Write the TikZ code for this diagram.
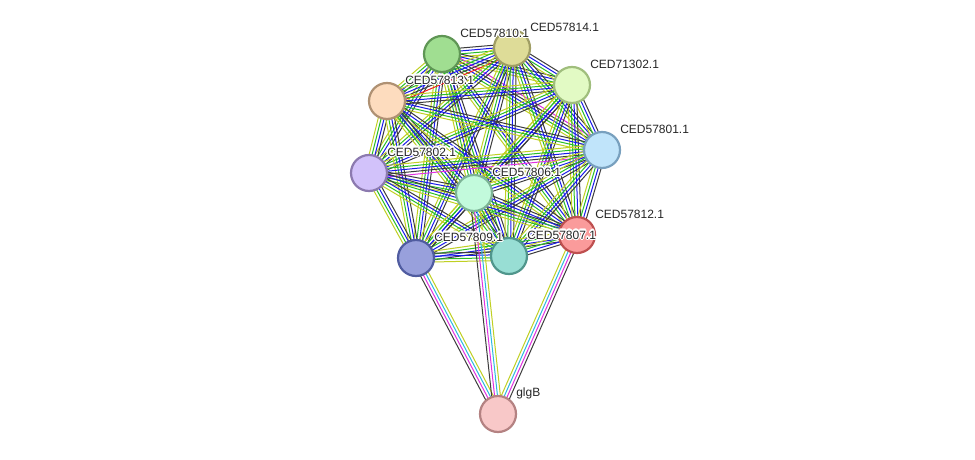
\documentclass[tikz,border=0pt]{standalone}
\usepackage{fontspec}
\setmainfont{Liberation Sans}
\usepackage{contour}
\contourlength{1.2pt}
\usetikzlibrary{calc}
% evidence line colours
\definecolor{sgreen}{RGB}{40,190,40}
\definecolor{sblue}{RGB}{25,25,235}
\definecolor{sblack}{RGB}{60,60,60}
\definecolor{syellow}{RGB}{192,208,35}
\definecolor{smagenta}{RGB}{225,50,225}
\definecolor{scyan}{RGB}{45,185,225}
\definecolor{sred}{RGB}{240,30,30}
% node fills / borders
\definecolor{f810}{RGB}{160,222,145}\definecolor{d810}{RGB}{95,150,85}
\definecolor{f814}{RGB}{222,220,152}\definecolor{d814}{RGB}{160,158,100}
\definecolor{f302}{RGB}{226,250,196}\definecolor{d302}{RGB}{160,190,125}
\definecolor{f813}{RGB}{253,220,190}\definecolor{d813}{RGB}{175,145,115}
\definecolor{f801}{RGB}{192,228,250}\definecolor{d801}{RGB}{120,160,190}
\definecolor{f802}{RGB}{210,194,250}\definecolor{d802}{RGB}{140,122,175}
\definecolor{f806}{RGB}{194,250,220}\definecolor{d806}{RGB}{125,180,150}
\definecolor{f812}{RGB}{250,155,155}\definecolor{d812}{RGB}{190,80,80}
\definecolor{f809}{RGB}{152,160,220}\definecolor{d809}{RGB}{80,92,160}
\definecolor{f807}{RGB}{152,222,212}\definecolor{d807}{RGB}{80,150,140}
\definecolor{fglg}{RGB}{248,200,200}\definecolor{dglg}{RGB}{180,130,130}
\pgfdeclarelayer{background}
\pgfsetlayers{background,main}
% parallel lines between two nodes, one per colour
\newcommand{\lnk}[3]{%
  \edef\lnkcols{#3}%
  \foreach \c [count=\k] in \lnkcols {\xdef\lnkn{\k}}%
  \foreach \c [count=\k] in \lnkcols {
    \pgfmathsetmacro{\lnkoff}{(\k-(\lnkn+1)/2)*2.9}
    \draw[\c,line width=1pt] ($(#1)!\lnkoff pt!90:(#2)$) -- ($(#2)!\lnkoff pt!-90:(#1)$);
  }%
}
% pairs with extra evidence
\expandafter\def\csname lcn810n801\endcsname{syellow,sgreen,sblue,sblack,smagenta}
\expandafter\def\csname lcn814n813\endcsname{syellow,sgreen,sblue,sblack,sred}
\expandafter\def\csname lcn801n802\endcsname{syellow,sgreen,sblue,sblack,smagenta}
\begin{document}
\begin{tikzpicture}[
  x=1pt, y=-1pt,
  prot/.style={circle,draw,line width=2.2pt,minimum size=36pt,inner sep=0pt},
  lbl/.style={font=\fontsize{12}{14}\selectfont,text=black!85,inner sep=0pt,anchor=west,
              xshift=-1pt,yshift=20.5pt},
]
  \useasboundingbox (0,0) rectangle (975,460);

  % proteins
  \node[prot,fill=f810,draw=d810] (n810) at (442,54) {};
  \node[prot,fill=f814,draw=d814] (n814) at (512,48) {};
  \node[prot,fill=f302,draw=d302] (n302) at (572,85) {};
  \node[prot,fill=f813,draw=d813] (n813) at (387,101) {};
  \node[prot,fill=f801,draw=d801] (n801) at (602,150) {};
  \node[prot,fill=f802,draw=d802] (n802) at (369,173) {};
  \node[prot,fill=f806,draw=d806] (n806) at (474,193) {};
  \node[prot,fill=f812,draw=d812] (n812) at (577,235) {};
  \node[prot,fill=f809,draw=d809] (n809) at (416,258) {};
  \node[prot,fill=f807,draw=d807] (n807) at (509,256) {};
  \node[prot,fill=fglg,draw=dglg] (glg) at (498,414) {};

  % names
  \node[lbl] (t810) at (n810.east) {\contour{white}{CED57810.1}};
  \node[lbl] (t814) at (n814.east) {\contour{white}{CED57814.1}};
  \node[lbl] (t302) at (n302.east) {\contour{white}{CED71302.1}};
  \node[lbl] (t813) at (n813.east) {\contour{white}{CED57813.1}};
  \node[lbl] (t801) at (n801.east) {\contour{white}{CED57801.1}};
  \node[lbl] (t802) at (n802.east) {\contour{white}{CED57802.1}};
  \node[lbl] (t806) at (n806.east) {\contour{white}{CED57806.1}};
  \node[lbl] (t812) at (n812.east) {\contour{white}{CED57812.1}};
  \node[lbl] (t809) at (n809.east) {\contour{white}{CED57809.1}};
  \node[lbl] (t807) at (n807.east) {\contour{white}{CED57807.1}};
  \node[lbl] (tglg) at (glg.east) {\contour{white}{glgB}};

  \begin{pgfonlayer}{background}
    \fill[white] (0,0) rectangle (975,460);
    % cluster: every pair linked
    \foreach \a [count=\i] in {n810,n814,n302,n813,n801,n802,n806,n812,n809,n807}
      \foreach \b [count=\j] in {n810,n814,n302,n813,n801,n802,n806,n812,n809,n807} {
        \ifnum\j>\i
          \ifcsname lc\a\b\endcsname
            \lnk{\a}{\b}{\csname lc\a\b\endcsname}
          \else
            \lnk{\a}{\b}{syellow,sgreen,sblue,sblack}
          \fi
        \fi
      }
    % glgB
    \lnk{n809}{glg}{sblack,smagenta,scyan,syellow}
    \lnk{n806}{glg}{sblack,smagenta,scyan,syellow}
    \lnk{n812}{glg}{syellow,scyan,smagenta,sblack}
  \end{pgfonlayer}
\end{tikzpicture}
\end{document}
